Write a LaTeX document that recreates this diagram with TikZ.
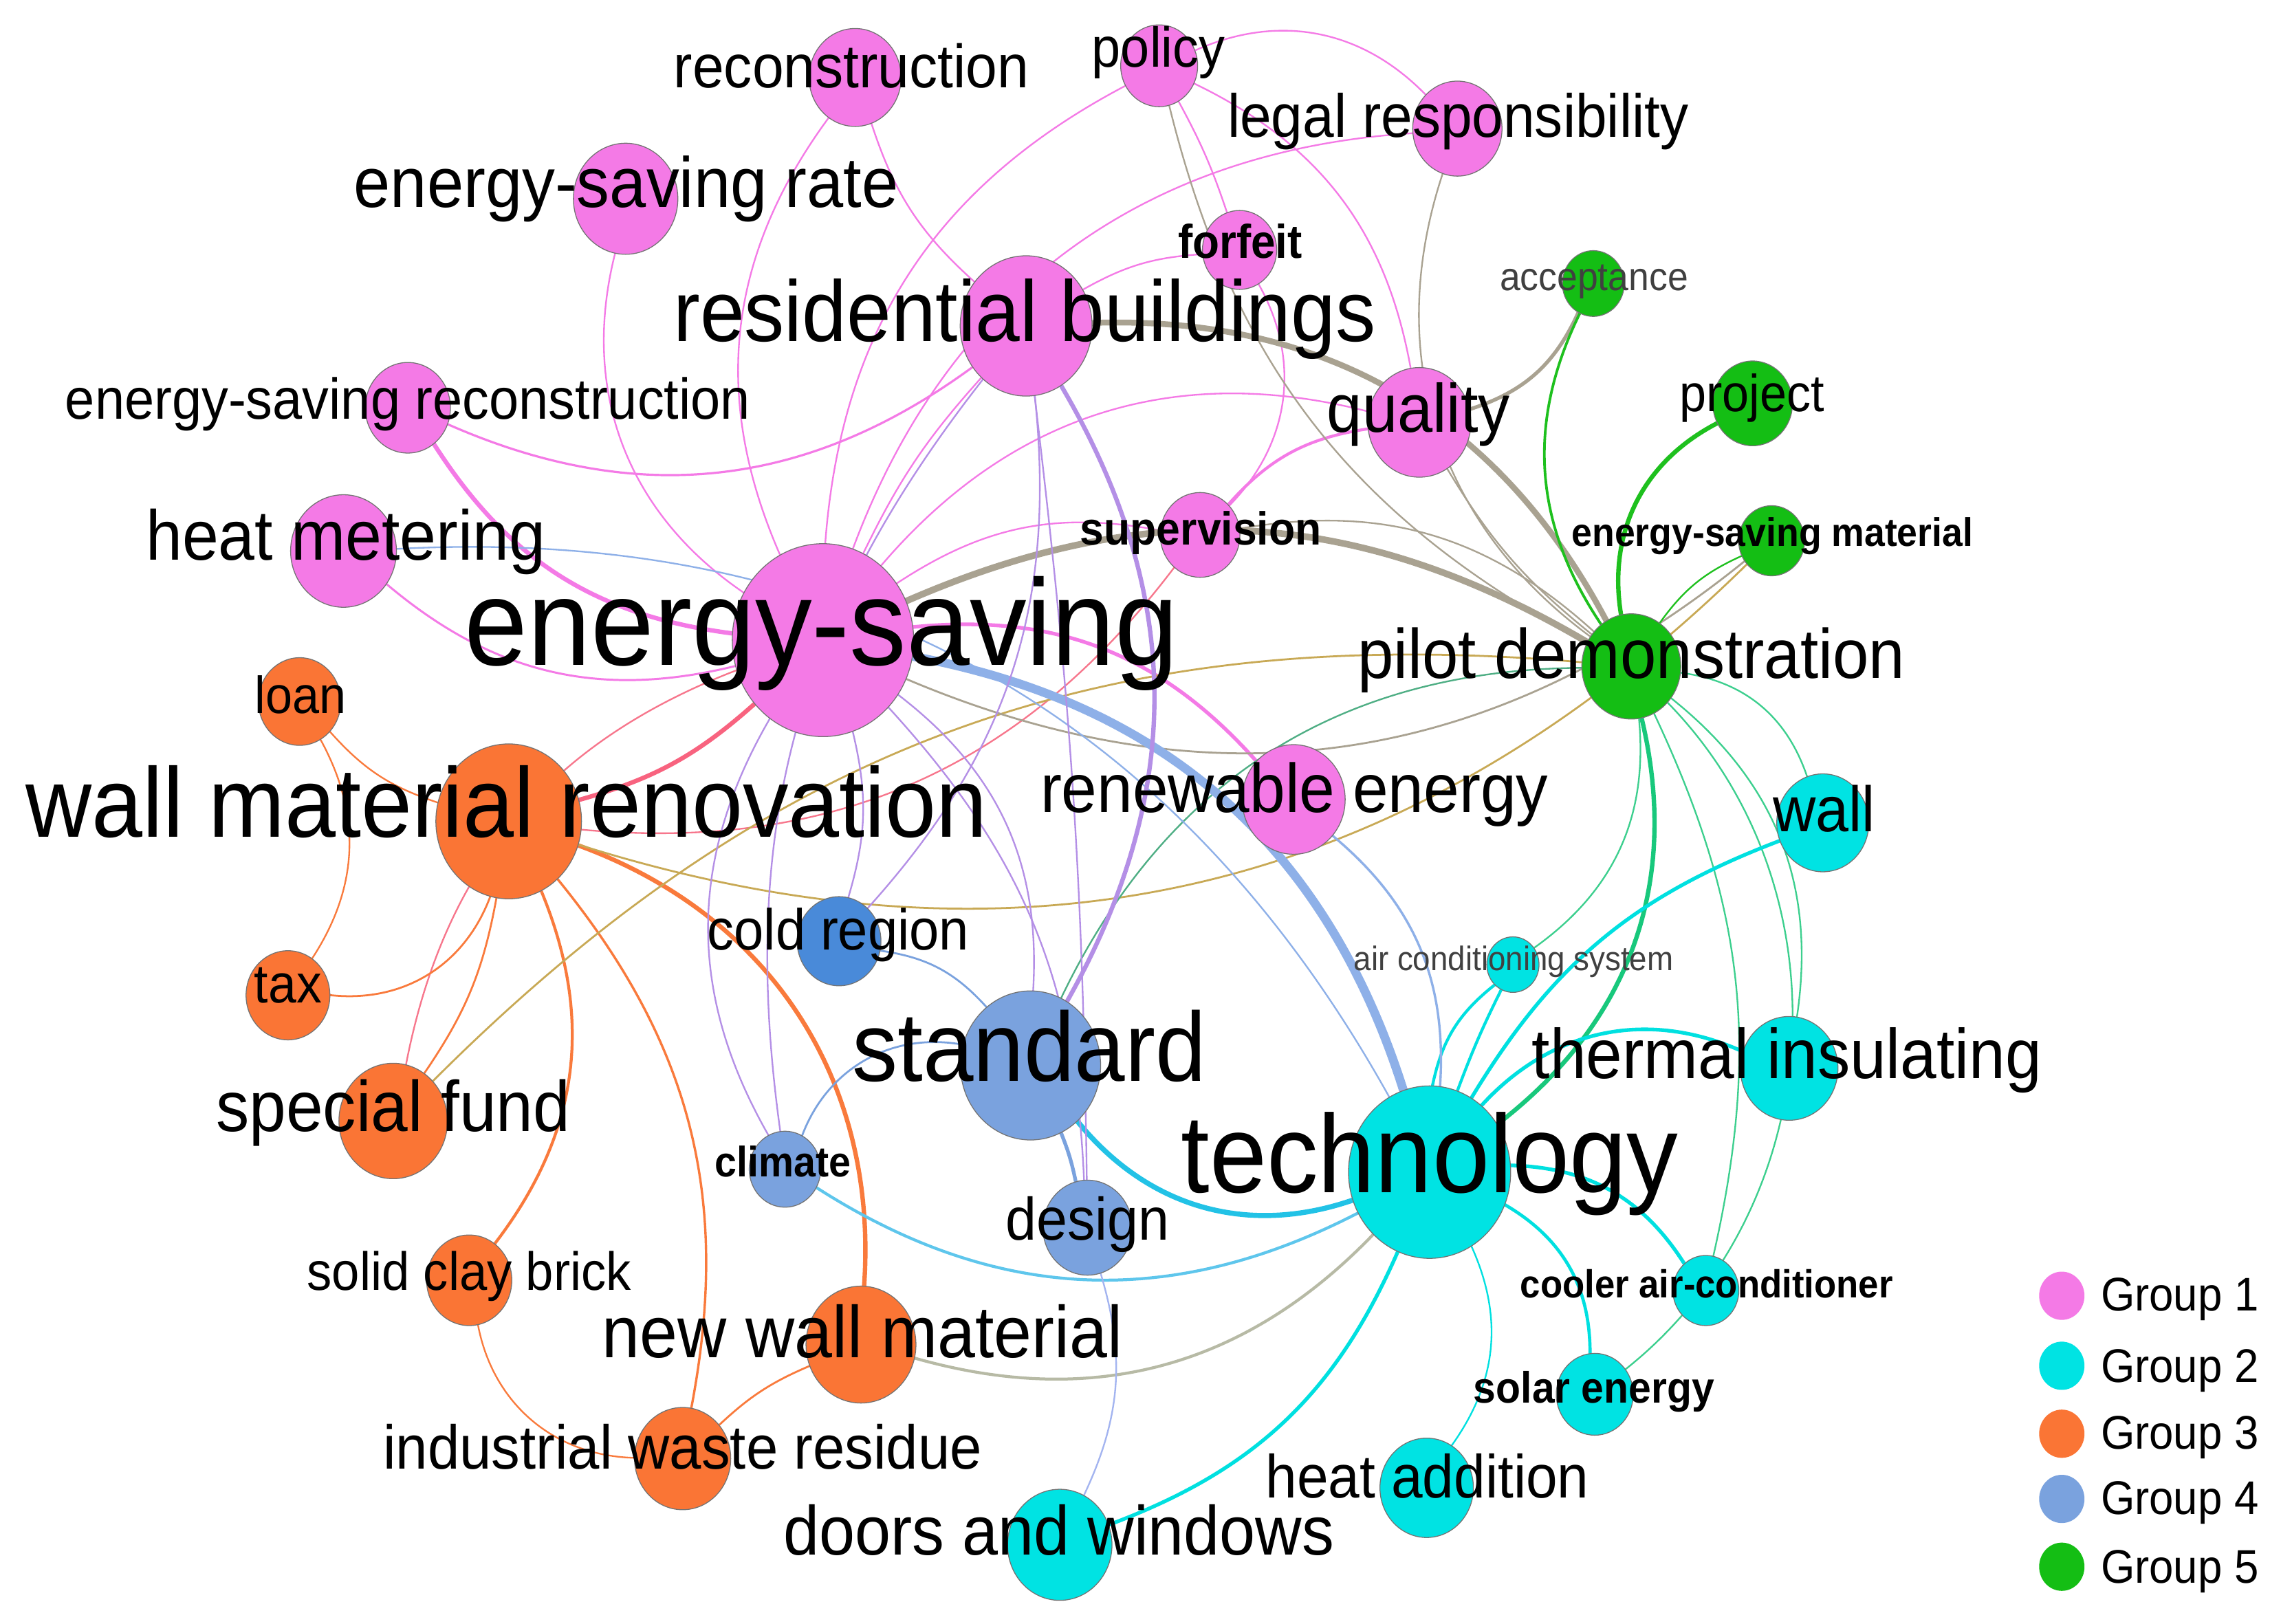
\documentclass[tikz,border=0pt]{standalone}
\usepackage{fontspec}
\setmainfont{Liberation Sans}
\usetikzlibrary{shapes.geometric,backgrounds}
\pgfdeclarelayer{canvasbg}
\pgfsetlayers{canvasbg,background,main}
\definecolor{g1}{HTML}{F47AE6}
\definecolor{g2}{HTML}{00E3E3}
\definecolor{g3}{HTML}{FA7535}
\definecolor{g4}{HTML}{7AA2DE}
\definecolor{g4d}{HTML}{498AD9}
\definecolor{g5}{HTML}{14BE14}
\definecolor{pp}{HTML}{F47AE6}
\definecolor{pg}{HTML}{A9A291}
\definecolor{pc}{HTML}{8EB0E8}
\definecolor{pb}{HTML}{B48FE6}
\definecolor{po}{HTML}{F7768C}
\definecolor{poT}{HTML}{F8637F}
\definecolor{oo}{HTML}{F97A3C}
\definecolor{og}{HTML}{C8A955}
\definecolor{gc}{HTML}{3CCF8E}
\definecolor{gcT}{HTML}{18C87C}
\definecolor{gg}{HTML}{1EC01E}
\definecolor{cc}{HTML}{00E0E0}
\definecolor{bc}{HTML}{22C2E6}
\definecolor{bcl}{HTML}{5EC6EC}
\definecolor{bb}{HTML}{7AA2DE}
\definecolor{gb}{HTML}{4EAE84}
\definecolor{oc}{HTML}{B7BAA5}
\definecolor{bd}{HTML}{A3B4F0}
\definecolor{labgray}{HTML}{404040}
\tikzset{
  nd/.style={ellipse,draw=black!55,line width=0.6pt,inner sep=0pt,outer sep=0pt},
  lab/.style={inner sep=0pt,text=black},
  ed/.style={line cap=round,line width=1.1pt},
  lgc/.style={ellipse,minimum width=31pt,minimum height=33pt,inner sep=0pt},
  lgt/.style={lab,anchor=base west,font=\fontsize{29.9}{29.9}\selectfont},
}
\newcommand\gn[5]{\node[nd,fill=#5,minimum height=#4pt,minimum width=#4pt*0.94] (#1) at (#2,-#3) {};}
\newcommand\lb[5]{\node[lab,anchor=base,font=\fontsize{#4}{#4}\selectfont#5] at (#1,-#2) {\scalebox{1}[1.08]{#3}};}
\begin{document}
\begin{tikzpicture}[x=1pt,y=1pt]
\begin{pgfonlayer}{canvasbg}
\fill[white] (0,0) rectangle (1568,-1111);
\end{pgfonlayer}
\useasboundingbox (0,0) rectangle (1568,-1111);
% nodes
\gn{rec}{585}{53}{67}{g1}
\gn{pol}{793}{45}{56}{g1}
\gn{leg}{997}{88}{65}{g1}
\gn{esr}{428}{136}{76}{g1}
\gn{frf}{848}{171}{54}{g1}
\gn{rb}{702}{223}{96}{g1}
\gn{esrc}{279}{279}{62}{g1}
\gn{qua}{971}{289}{75}{g1}
\gn{hm}{235}{377}{77}{g1}
\gn{sup}{821}{366}{58}{g1}
\gn{es}{563}{438}{132}{g1}
\gn{ren}{885}{547}{75}{g1}
\gn{acc}{1090}{194}{45}{g5}
\gn{prj}{1199}{276}{58}{g5}
\gn{esm}{1212}{370}{48}{g5}
\gn{pd}{1116}{456}{72}{g5}
\gn{loan}{205}{480}{60}{g3}
\gn{wmr}{348}{562}{106}{g3}
\gn{tax}{197}{681}{61}{g3}
\gn{sf}{269}{767}{79}{g3}
\gn{scb}{321}{876}{62}{g3}
\gn{nwm}{589}{920}{80}{g3}
\gn{iwr}{467}{998}{70}{g3}
\gn{cr}{574}{644}{61}{g4d}
\gn{std}{705}{729}{102}{g4}
\gn{clim}{537}{800}{52}{g4}
\gn{dsg}{744}{840}{65}{g4}
\gn{wall}{1247}{563}{67}{g2}
\gn{acs}{1035}{660}{38}{g2}
\gn{thi}{1224}{731}{71}{g2}
\gn{tech}{978}{802}{118}{g2}
\gn{cac}{1167}{883}{48}{g2}
\gn{sol}{1091}{954}{56}{g2}
\gn{ha}{976}{1018}{68}{g2}
\gn{dw}{725}{1057}{76}{g2}
% edges
\begin{pgfonlayer}{background}
\draw[ed,pp] (rec) to[bend right=30] (es);
\draw[ed,pp] (rec) to[bend right=15] (rb);
\draw[ed,pp] (pol) to[bend left=35] (leg);
\draw[ed,pp] (pol) to[bend left=5] (frf);
\draw[ed,pp] (pol) to[bend right=29] (es);
\draw[ed,pp] (pol) to[bend left=27] (qua);
\draw[ed,pp] (leg) to[bend right=33] (es);
\draw[ed,pp] (frf) to[bend right=13] (rb);
\draw[ed,pp] (frf) to[bend left=37] (sup);
\draw[ed,pp] (esr) to[bend right=35] (es);
\draw[ed,pp,line width=1.5pt] (esrc) to[bend right=30] (rb);
\draw[ed,pp,line width=3pt] (esrc) to[bend right=25] (es);
\draw[ed,pp,line width=1.4pt] (hm) to[bend right=27] (es);
\draw[ed,pp] (rb) to[bend right=8] (es);
\draw[ed,pp] (es) to[bend left=22] (sup);
\draw[ed,pp] (es) to[bend left=32] (qua);
\draw[ed,pp,line width=2pt] (sup) to[bend left=20] (qua);
\draw[ed,pp,line width=2.5pt] (es) to[bend left=27] (ren);
\draw[ed,po] (sup) to[bend left=29] (wmr);
\draw[ed,poT,line width=3pt] (es) to[bend left=13] (wmr);
\draw[ed,po] (es) to[bend right=29] (sf);
\draw[ed,oo] (loan) to[bend right=15] (wmr);
\draw[ed,oo] (loan) to[bend left=31] (tax);
\draw[ed,oo,line width=1.3pt] (tax) to[bend right=38] (wmr);
\draw[ed,oo,line width=1.3pt] (sf) to[bend right=12] (wmr);
\draw[ed,oo,line width=2pt] (scb) to[bend right=30] (wmr);
\draw[ed,oo,line width=1.6pt] (wmr) to[bend left=25] (iwr);
\draw[ed,oo,line width=3pt] (wmr) to[bend left=37] (nwm);
\draw[ed,oo] (scb) to[bend right=39] (iwr);
\draw[ed,oo,line width=1.3pt] (nwm) to[bend right=10] (iwr);
\draw[ed,og,line width=1.3pt] (sf) to[bend left=25] (pd);
\draw[ed,og,line width=1.3pt] (esm) to[bend left=31] (wmr);
\draw[ed,pg,line width=4.5pt] (es) to[bend left=27] (pd);
\draw[ed,pg,line width=4pt] (rb) to[bend left=32] (pd);
\draw[ed,pg] (pol) to[bend right=24] (pd);
\draw[ed,pg] (leg) to[bend right=36] (pd);
\draw[ed,pg,line width=2.5pt] (qua) to[bend right=24] (acc);
\draw[ed,pg] (qua) to[bend right=10] (pd);
\draw[ed,pg] (sup) to[bend left=26] (pd);
\draw[ed,pg,line width=1.3pt] (es) to[bend right=31] (esm);
\draw[ed,gb] (std) to[bend left=32] (pd);
\draw[ed,gg,line width=1.8pt] (acc) to[bend right=30] (pd);
\draw[ed,gg,line width=3pt] (prj) to[bend right=36] (pd);
\draw[ed,gg] (esm) to[bend right=15] (pd);
\draw[ed,gc] (pd) to[bend left=32] (wall);
\draw[ed,gc] (pd) to[bend left=30] (thi);
\draw[ed,gc] (pd) to[bend left=19] (cac);
\draw[ed,gc] (pd) to[bend left=48] (sol);
\draw[ed,gc] (pd) to[bend left=30] (acs);
\draw[ed,gcT,line width=3pt] (pd) to[bend left=33] (tech);
\draw[ed,cc,line width=2.5pt] (tech) to[bend left=19] (wall);
\draw[ed,cc,line width=2pt] (acs) to[bend right=20] (tech);
\draw[ed,cc,line width=2pt] (acs) to[bend right=3] (tech);
\draw[ed,cc,line width=2.5pt] (tech) to[bend left=36] (thi);
\draw[ed,cc,line width=2.5pt] (tech) to[bend left=28] (cac);
\draw[ed,cc,line width=2.2pt] (tech) to[bend left=30] (sol);
\draw[ed,cc] (tech) to[bend left=30] (ha);
\draw[ed,cc,line width=2.5pt] (tech) to[bend left=23] (dw);
\draw[ed,bc,line width=3.5pt] (std) to[bend right=35] (tech);
\draw[ed,bcl,line width=2pt] (clim) to[bend right=30] (tech);
\draw[ed,oc,line width=2pt] (nwm) to[bend right=31] (tech);
\draw[ed,bb,line width=2.5pt] (std) to[bend left=5] (dsg);
\draw[ed,bd] (dsg) to[bend left=21] (dw);
\draw[ed,pc,line width=1.6pt] (ren) to[bend left=27] (tech);
\draw[ed,pc,line width=6pt] (es) to[bend left=31] (tech);
\draw[ed,pc] (hm) to[bend left=32] (tech);
\draw[ed,pb] (es) to[bend left=28] (std);
\draw[ed,pb] (es) to[bend left=20] (dsg);
\draw[ed,pb] (rb) to[bend left=3] (dsg);
\draw[ed,pb,line width=3pt] (rb) to[bend left=30] (std);
\draw[ed,pb] (es) to[bend right=30] (clim);
\draw[ed,pb] (rb) to[bend right=23] (clim);
\draw[ed,pb] (es) to[bend left=15] (cr);
\draw[ed,pb] (rb) to[bend left=24] (cr);
\draw[ed,bb,line width=1.3pt] (cr) to[bend left=20] (std);
\draw[ed,bb,line width=1.3pt] (clim) to[bend left=40] (std);
\end{pgfonlayer}
% labels
\lb{582.5}{60}{reconstruction}{38.7}{}
\lb{792.5}{46}{policy}{35.6}{}
\lb{997.5}{94}{legal responsibility}{38.6}{}
\lb{428.5}{142}{energy-saving rate}{45}{}
\lb{848.5}{176.7}{forfeit}{30}{\bfseries}
\lb{701}{233.5}{residential buildings}{54.7}{}
\lb{279}{286.5}{energy-saving reconstruction}{36.5}{}
\lb{970.5}{295.5}{quality}{43.3}{}
\lb{236.5}{383}{heat metering}{44.7}{}
\lb{821.5}{372.7}{supervision}{29.4}{\bfseries}
\lb{562}{455}{energy-saving}{77.7}{}
\lb{885.5}{556}{renewable energy}{43.7}{}
\lb{1090.5}{198.7}{\textcolor{labgray}{acceptance}}{25.2}{}
\lb{1198.5}{281.6}{project}{33}{}
\lb{1212.5}{373.7}{energy-saving material}{25.2}{\bfseries}
\lb{1116}{464}{pilot demonstration}{44.3}{}
\lb{205.5}{488}{loan}{33}{}
\lb{346.5}{572.6}{wall material renovation}{62.6}{}
\lb{197}{686}{tax}{34.5}{}
\lb{269}{774}{special fund}{45.4}{}
\lb{321}{883}{solid clay brick}{34.1}{}
\lb{590}{929}{new wall material}{46.4}{}
\lb{467}{1005}{industrial waste residue}{39.2}{}
\lb{573.5}{649.7}{cold region}{36.6}{}
\lb{704}{740}{standard}{62.2}{}
\lb{535.5}{805}{climate}{27}{\bfseries}
\lb{744}{848.5}{design}{38}{}
\lb{1248}{569}{wall}{40.6}{}
\lb{1035.5}{664}{\textcolor{labgray}{air conditioning system}}{21.5}{}
\lb{1222.5}{737.7}{thermal insulating}{44.5}{}
\lb{978}{816}{technology}{70.3}{}
\lb{1167.5}{888}{cooler air-conditioner}{24.8}{\bfseries}
\lb{1090.5}{960}{solar energy}{27.7}{\bfseries}
\lb{976.5}{1025}{heat addition}{38.6}{}
\lb{724.5}{1064}{doors and windows}{44}{}
% legend
\node[lgc,fill=g1] (lg1) at (1410.5,-886.6) {};
\node[lgc,fill=g2] (lg2) at (1410.5,-934.5) {};
\node[lgc,fill=g3] (lg3) at (1410.5,-981) {};
\node[lgc,fill=g4] (lg4) at (1410.5,-1025.6) {};
\node[lgc,fill=g5] (lg5) at (1410.5,-1072) {};
\node[lgt] (lt1) at (1437,-897) {\scalebox{1}[1.08]{Group 1}};
\node[lgt] (lt2) at (1437,-945.6) {\scalebox{1}[1.08]{Group 2}};
\node[lgt] (lt3) at (1437,-991.5) {\scalebox{1}[1.08]{Group 3}};
\node[lgt] (lt4) at (1437,-1036) {\scalebox{1}[1.08]{Group 4}};
\node[lgt] (lt5) at (1437,-1083) {\scalebox{1}[1.08]{Group 5}};
\end{tikzpicture}
\end{document}
